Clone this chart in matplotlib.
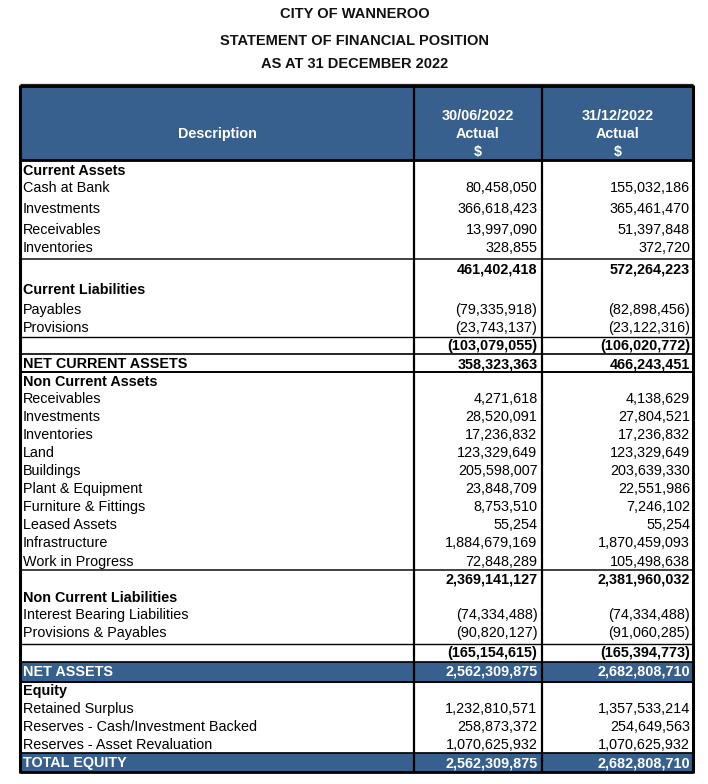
import matplotlib
matplotlib.use("Agg")
import matplotlib.pyplot as plt
from matplotlib.patches import Rectangle

# ---------------- data ----------------
title_lines = ["CITY OF WANNEROO", "STATEMENT OF FINANCIAL POSITION", "AS AT 31 DECEMBER 2022"]
col_headers = ["Description", "30/06/2022\nActual\n$", "31/12/2022\nActual\n$"]

labels = ["Current Assets", "Cash at Bank", "Investments", "Receivables", "Inventories", "",
          "Current Liabilities", "Payables", "Provisions", "", "NET CURRENT ASSETS",
          "Non Current Assets", "Receivables", "Investments", "Inventories", "Land", "Buildings",
          "Plant & Equipment", "Furniture & Fittings", "Leased Assets", "Infrastructure",
          "Work in Progress", "", "Non Current Liabilities", "Interest Bearing Liabilities",
          "Provisions & Payables", "", "NET ASSETS", "Equity", "Retained Surplus",
          "Reserves - Cash/Investment Backed", "Reserves - Asset Revaluation", "TOTAL EQUITY"]

jun_2022 = [None, 80458050, 366618423, 13997090, 328855, 461402418,
            None, -79335918, -23743137, -103079055, 358323363,
            None, 4271618, 28520091, 17236832, 123329649, 205598007,
            23848709, 8753510, 55254, 1884679169,
            72848289, 2369141127, None, -74334488,
            -90820127, -165154615, 2562309875, None, 1232810571,
            258873372, 1070625932, 2562309875]

dec_2022 = [None, 155032186, 365461470, 51397848, 372720, 572264223,
            None, -82898456, -23122316, -106020772, 466243451,
            None, 4138629, 27804521, 17236832, 123329649, 203639330,
            22551986, 7246102, 55254, 1870459093,
            105498638, 2381960032, None, -74334488,
            -91060285, -165394773, 2682808710, None, 1357533214,
            254649563, 1070625932, 2682808710]

# ---------------- layout / style ----------------
row_y = [170, 187, 208, 229, 247, 268, 289, 309, 327, 345, 363, 381, 398, 416, 434, 452, 470,
         488, 506, 524, 542, 561, 579, 597, 614, 632, 652, 671, 690, 708, 726, 744, 762]
bold_rows = {0, 5, 6, 9, 10, 11, 22, 23, 26, 27, 28, 32}
band_rows = {27, 32}

BLUE = "#37608F"
FONT = ["Liberation Sans", "DejaVu Sans"]
FS = 10.4
DY = 1.0  # small baseline correction

W, H = 708, 784
fig = plt.figure(figsize=(W / 100, H / 100), dpi=100)
ax = fig.add_axes([0, 0, 1, 1])
ax.set_xlim(0, W)
ax.set_ylim(H, 0)
ax.axis("off")

x_left, x_c1, x_c2, x_right = 20, 414, 542, 693
top, head_bot = 85, 160

# titles
for t, y in zip(title_lines, [13, 40, 63]):
    ax.text(W / 2 + 1, y + DY, t, ha="center", va="center", fontsize=10.5, fontweight="bold",
            family=FONT, color="#111111")

# header fill
ax.add_patch(Rectangle((x_left, top), x_right - x_left, head_bot - top, color=BLUE, zorder=1))
ax.text((x_left + x_c1) / 2, 133 + DY, col_headers[0], ha="center", va="center", fontsize=FS,
        fontweight="bold", color="white", family=FONT, zorder=3)
for xc, h in zip([(x_c1 + x_c2) / 2, (x_c2 + x_right) / 2], col_headers[1:]):
    for k, part in enumerate(h.split("\n")):
        ax.text(xc, 115 + 18 * k + DY, part, ha="center", va="center", fontsize=FS,
                fontweight="bold", color="white", family=FONT, zorder=3)

# bands
band_spans = {27: (662, 679.5), 32: (753, 771)}
for i, (y0, y1) in band_spans.items():
    ax.add_patch(Rectangle((x_left, y0), x_right - x_left, y1 - y0, color=BLUE, zorder=1))


def fmt(v):
    if v is None:
        return ""
    s = f"{abs(v):,}"
    return f"({s})" if v < 0 else s


for i, (lab, a, b, y) in enumerate(zip(labels, jun_2022, dec_2022, row_y)):
    weight = "bold" if i in bold_rows else "normal"
    color = "white" if i in band_rows else "black"
    if lab:
        ax.text(23, y + DY, lab, ha="left", va="center", fontsize=FS, fontweight=weight,
                color=color, family=FONT, zorder=3)
    ax.text(537.5, y + DY, fmt(a), ha="right", va="center", fontsize=FS, fontweight=weight,
            color=color, family=FONT, zorder=3)
    ax.text(690, y + DY, fmt(b), ha="right", va="center", fontsize=FS, fontweight=weight,
            color=color, family=FONT, zorder=3)

# horizontal rules
def hline(y, lw, color="black"):
    ax.plot([x_left, x_right], [y, y], color=color, lw=lw, zorder=4, solid_capstyle="butt")

hline(84, 0.9, "#222222")
hline(86, 2.0)
hline(160, 2.0)
hline(258.5, 1.3, "#333333")
hline(337, 1.0)
hline(354, 1.2)
hline(371.5, 1.4)
hline(570, 1.3, "#333333")
hline(644, 1.0)
hline(662, 1.2)
hline(682, 1.4)
hline(753, 1.2)
hline(772, 2.0)

# vertical rules
for x, lw in [(x_left, 2.2), (x_c1, 1.6), (x_c2, 1.6), (x_right, 2.2)]:
    ax.plot([x, x], [85, 773], color="black", lw=lw, zorder=4, solid_capstyle="butt")

fig.savefig("out.png", dpi=100)
